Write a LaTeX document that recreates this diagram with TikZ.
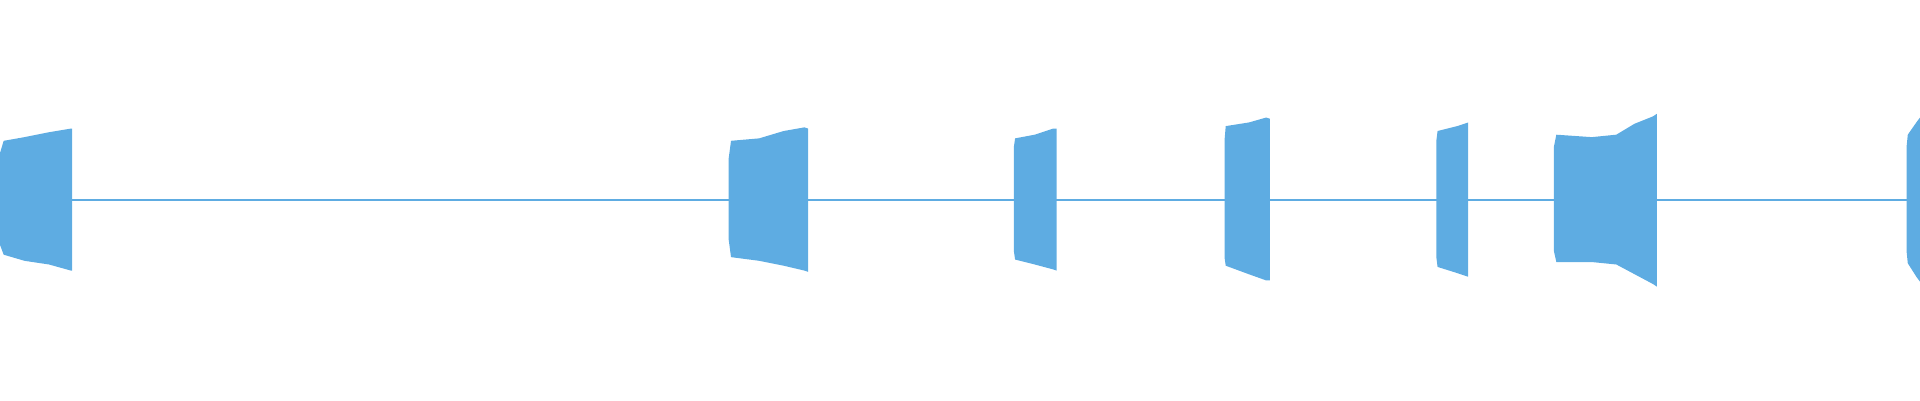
\documentclass[tikz,border=0pt]{standalone}
\definecolor{wave}{RGB}{94,172,226}
\begin{document}
\begin{tikzpicture}[x=0.0254cm,y=-0.0254cm,burst/.style={fill=wave,draw=none}]
\useasboundingbox (0,0) rectangle (1568,326.7);
\draw[wave,line width=1.1] (0,163) -- (1568,163);
% bursts
\fill[burst] (0,125) -- (3,115) -- (20,112) -- (40,108) -- (58,105) -- (59,105) -- (59,221) -- (58,221) -- (40,216) -- (20,213) -- (3,208) -- (0,200) -- cycle;
\fill[burst] (595,130) -- (597,115) -- (620,113) -- (640,107) -- (657,104) -- (660,105) -- (660,222) -- (657,221) -- (640,217) -- (620,213) -- (597,210) -- (595,195) -- cycle;
\fill[burst] (828,120) -- (829,113) -- (845,110) -- (860,105) -- (863,105) -- (863,221) -- (860,220) -- (845,216) -- (829,212) -- (828,205) -- cycle;
\fill[burst] (1000,115) -- (1001,103) -- (1020,100) -- (1034,96) -- (1037,97) -- (1037,229) -- (1034,229) -- (1020,224) -- (1001,217) -- (1000,210) -- cycle;
\fill[burst] (1173,115) -- (1174,107) -- (1190,103) -- (1199,100) -- (1199,226) -- (1190,223) -- (1174,218) -- (1173,210) -- cycle;
\fill[burst] (1269,120) -- (1271,110) -- (1300,112) -- (1320,110) -- (1335,101) -- (1350,95) -- (1353,93) -- (1353,234) -- (1350,232) -- (1335,224) -- (1320,216) -- (1300,214) -- (1271,214) -- (1269,205) -- cycle;
\fill[burst] (1557,120) -- (1558,110) -- (1565,100) -- (1568,96) -- (1568,230) -- (1565,226) -- (1558,215) -- (1557,205) -- cycle;
\end{tikzpicture}
\end{document}
